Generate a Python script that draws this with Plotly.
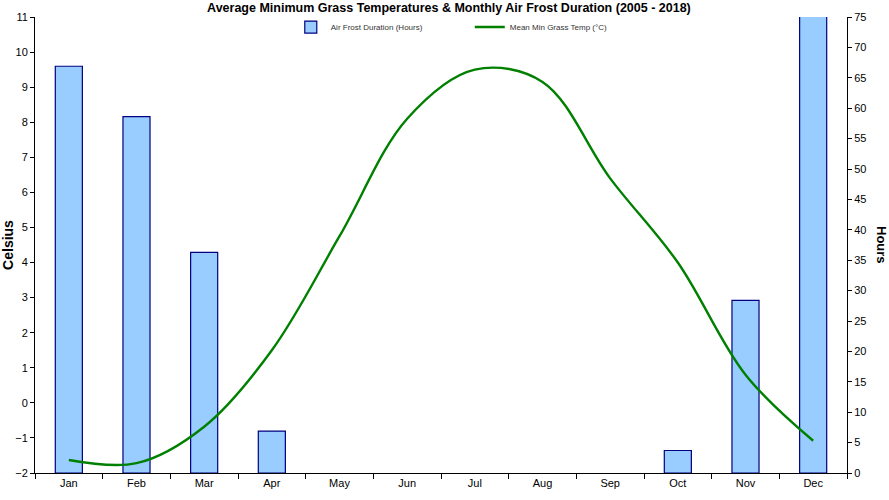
import plotly.graph_objects as go

months = ["Jan", "Feb", "Mar", "Apr", "May", "Jun", "Jul", "Aug", "Sep", "Oct", "Nov", "Dec"]
frost_hours = [66.9, 58.6, 36.3, 6.9, 0, 0, 0, 0, 0, 3.7, 28.4, 78.0]
grass_temp = [-1.63, -1.72, -0.68, 1.5, 4.75, 8.1, 9.5, 9.15, 6.4, 4.0, 0.8, -1.08]

celsius_ticks = list(range(-2, 12))
hours_ticks = list(range(0, 80, 5))

FONT = "Liberation Sans, Arial, sans-serif"

# months with no frost get no visible outline at the baseline
bar_line_widths = [1.2 if h > 0 else 0 for h in frost_hours]

fig = go.Figure()
fig.add_trace(go.Bar(
    x=months, y=frost_hours, name="Air Frost Duration (Hours)",
    yaxis="y",
    marker=dict(color="#99ccff", line=dict(color="#000080", width=bar_line_widths)),
))
fig.add_trace(go.Scatter(
    x=months, y=grass_temp, name="Mean Min Grass Temp (°C)",
    yaxis="y2",
    mode="lines", line=dict(color="#008000", width=2.4, shape="spline", smoothing=1.0),
))

fig.update_layout(
    width=889, height=500,
    margin=dict(l=35, r=42, t=17, b=27, autoexpand=False),
    paper_bgcolor="white", plot_bgcolor="white",
    font=dict(family=FONT, size=11, color="#000000"),
    title=dict(text="<b>Average Minimum Grass Temperatures & Monthly Air Frost Duration (2005 - 2018)</b>",
               x=0.505, xanchor="center", y=0.993, yanchor="top",
               font=dict(family=FONT, size=12.5, color="#000000")),
    bargap=0.6,
    showlegend=True,
    legend=dict(orientation="h", x=0.315, xanchor="left", y=0.978, yanchor="middle",
                font=dict(family=FONT, size=8, color="#333333"),
                bgcolor="rgba(0,0,0,0)", entrywidth=134, itemwidth=30,
                traceorder="normal"),
    xaxis=dict(
        type="category", categoryorder="array", categoryarray=months,
        showline=True, linecolor="black", linewidth=1,
        ticks="outside", tickson="boundaries", ticklen=5, tickcolor="black",
        showgrid=False, zeroline=False, automargin=False,
        tickfont=dict(family=FONT, size=11, color="#000000"),
    ),
    yaxis=dict(
        range=[0, 75], tickvals=hours_ticks, side="right",
        showline=True, linecolor="black", linewidth=1,
        ticks="outside", ticklen=4, tickcolor="black",
        showgrid=False, zeroline=False, automargin=False,
        tickfont=dict(family=FONT, size=11, color="#000000"),
    ),
    yaxis2=dict(
        range=[-2, 11], tickvals=celsius_ticks, overlaying="y", side="left",
        showline=True, linecolor="black", linewidth=1,
        ticks="outside", ticklen=4, tickcolor="black",
        showgrid=False, zeroline=False, automargin=False,
        title=dict(text="<b>Celsius</b>", font=dict(family=FONT, size=14, color="#000000"), standoff=4),
        tickfont=dict(family=FONT, size=11, color="#000000"),
    ),
)

fig.add_annotation(
    text="<b>Hours</b>", xref="paper", yref="paper", x=1, y=0.5,
    xanchor="center", yanchor="middle", xshift=35, textangle=90, showarrow=False,
    font=dict(family=FONT, size=13, color="#000000"),
)

fig.write_html("out.html", config={"displayModeBar": False},
               post_script="document.body.style.margin='0px';")
